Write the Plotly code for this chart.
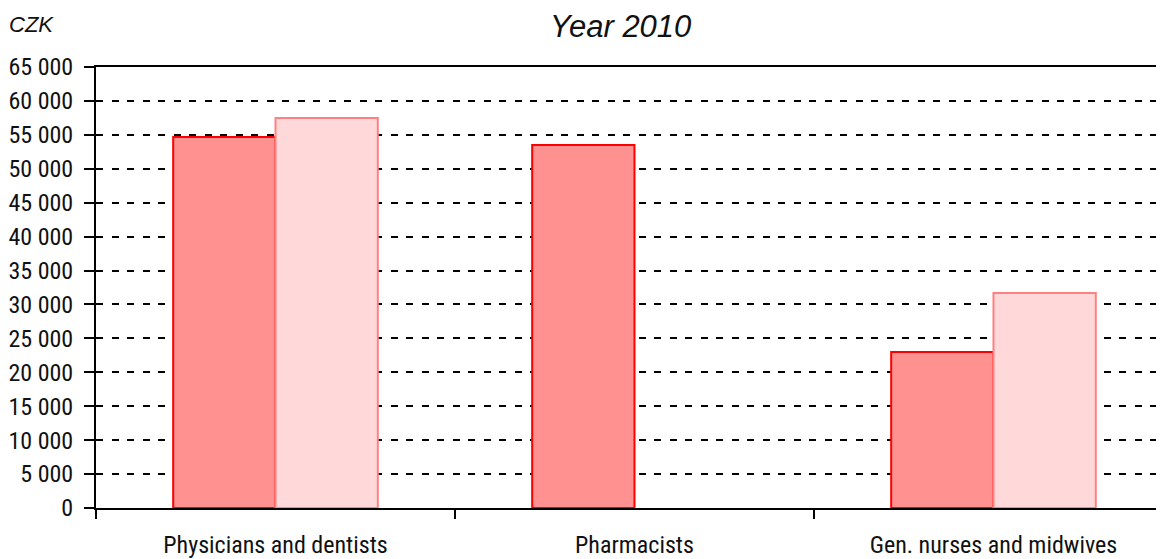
import plotly.graph_objects as go

categories = ["Physicians and dentists", "Pharmacists", "Gen. nurses and midwives"]
series1_name = "Men"
series1_values = [54700, 53500, 23000]
series2_name = "Women"
series2_values = [57500, None, 31700]
tick_values = list(range(0, 65001, 5000))
tick_labels = [f"{v:,}".replace(",", " ") for v in tick_values]

FONT = "Liberation Sans, Arial, sans-serif"
NARROW = "Roboto Condensed, Liberation Sans, Arial, sans-serif"

# page offset compensation (body margin of 8px)
W, H = 1156, 551
L, T, B, R = 88, 59, 51, 0
PW, PH = W - L - R, H - T - B

fig = go.Figure()
fig.add_trace(go.Bar(
    name=series1_name, x=categories, y=series1_values,
    marker=dict(color="#FF9191", line=dict(color="#FF0000", width=2)),
))
fig.add_trace(go.Bar(
    name=series2_name, x=categories, y=series2_values,
    marker=dict(color="#FFD9D9", line=dict(color="#FF8080", width=2)),
))

ann = [
    dict(text="<i>Year 2010</i>", x=(620 - 96) / PW, y=1 + (67 - 27) / PH, xref="paper", yref="paper",
         xanchor="center", yanchor="middle", showarrow=False,
         font=dict(family=FONT, size=31, color="#111111")),
    dict(text="<i>CZK</i>", x=(7 - 96) / PW, y=1 + (67 - 25) / PH, xref="paper", yref="paper",
         xanchor="left", yanchor="middle", showarrow=False,
         font=dict(family=FONT, size=22, color="#111111")),
]

fig.update_layout(
    width=W, height=H,
    margin=dict(l=L, r=R, t=T, b=B, pad=0),
    paper_bgcolor="white", plot_bgcolor="white",
    barmode="group", bargap=0.43, bargroupgap=0,
    showlegend=False,
    font=dict(family=NARROW, size=24, color="#111111"),
    xaxis=dict(
        type="category", range=[-0.5, 2.475], automargin=False,
        showline=True, linecolor="black", linewidth=2, mirror=True,
        ticks="outside", tickson="boundaries", ticklen=9, tickwidth=2, tickcolor="black",
        showgrid=False, tickfont=dict(family=NARROW, size=24), ticklabelstandoff=14,
    ),
    yaxis=dict(
        range=[0, 65000], tickvals=tick_values, ticktext=tick_labels, automargin=False,
        showline=True, linecolor="black", linewidth=2,
        ticks="outside", ticklen=10, tickwidth=2, tickcolor="black",
        showgrid=True, gridcolor="black", gridwidth=2, griddash="7px,8.5px",
        zeroline=False, tickfont=dict(family=NARROW, size=24), ticklabelstandoff=6,
    ),
    annotations=ann,
)

fig.write_html("out.html")
